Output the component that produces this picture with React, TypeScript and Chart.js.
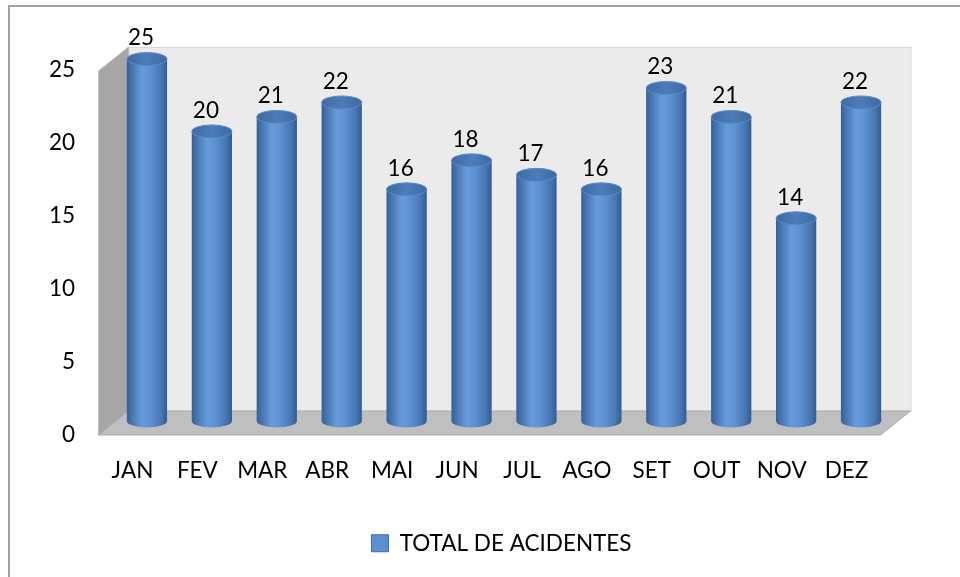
import React, { useEffect, useRef } from "react";
import { Chart, registerables } from "chart.js";

Chart.register(...registerables);

const categories = ["JAN", "FEV", "MAR", "ABR", "MAI", "JUN", "JUL", "AGO", "SET", "OUT", "NOV", "DEZ"];
const totalAcidentes = [25, 20, 21, 22, 16, 18, 17, 16, 23, 21, 14, 22];
const seriesName = "TOTAL DE ACIDENTES";
const yTicks = [0, 5, 10, 15, 20, 25];

const FONT = "Lato, 'Open Sans', sans-serif";
const FONT_SIZE = 22.5;
const DEPTH_X = 30;
const DEPTH_Y = 24;
const BAR_PCT = 0.62;

function barGeom(chart: any, i: number) {
  const x = chart.scales.x;
  const step = x.width / categories.length;
  return { cx: x.getPixelForValue(i), w: step * BAR_PCT };
}

function sideGradient(ctx: CanvasRenderingContext2D, cx: number, w: number) {
  const g = ctx.createLinearGradient(cx - w / 2, 0, cx + w / 2, 0);
  g.addColorStop(0, "#355f98");
  g.addColorStop(0.12, "#4674b0");
  g.addColorStop(0.38, "#679cdb");
  g.addColorStop(0.6, "#5d90d0");
  g.addColorStop(0.86, "#4675b2");
  g.addColorStop(1, "#325b92");
  return g;
}

export default function App() {
  const ref = useRef<HTMLCanvasElement>(null);

  useEffect(() => {
    document.body.style.margin = "0";
    document.body.style.overflow = "hidden";
    const canvas = ref.current!;

    const scene = {
      id: "scene3d",
      beforeDraw(chart: any) {
        const { ctx, chartArea: a, scales } = chart;
        const y0 = scales.y.getPixelForValue(0);
        const fl = a.left - 16;
        const br = a.right + 17;
        const bl = fl + DEPTH_X;
        const fr = br - DEPTH_X;
        const top = a.top;
        const backBottom = y0 - DEPTH_Y;
        ctx.save();
        ctx.fillStyle = "#ffffff";
        ctx.fillRect(0, 0, chart.width, chart.height);
        ctx.strokeStyle = "#a3a3a3";
        ctx.lineWidth = 2;
        ctx.strokeRect(9, 6, chart.width + 20, chart.height + 20);
        // back wall
        ctx.fillStyle = "#ebebeb";
        ctx.fillRect(bl, top, br - bl, backBottom - top);
        ctx.strokeStyle = "#d6d6d6";
        ctx.lineWidth = 1;
        ctx.strokeRect(bl + 0.5, top + 0.5, br - bl, backBottom - top);
        // side wall
        ctx.beginPath();
        ctx.moveTo(fl, top + DEPTH_Y);
        ctx.lineTo(bl, top);
        ctx.lineTo(bl, backBottom);
        ctx.lineTo(fl, y0);
        ctx.closePath();
        ctx.fillStyle = "#a6a6a6";
        ctx.fill();
        ctx.strokeStyle = "#bcbcbc";
        ctx.stroke();
        // floor
        ctx.beginPath();
        ctx.moveTo(fl, y0);
        ctx.lineTo(bl, backBottom);
        ctx.lineTo(br, backBottom);
        ctx.lineTo(fr, y0);
        ctx.closePath();
        ctx.fillStyle = "#bfbfbf";
        ctx.fill();
        ctx.strokeStyle = "#a9a9a9";
        ctx.stroke();
        ctx.restore();
      },
      afterDatasetsDraw(chart: any) {
        const { ctx } = chart;
        const meta = chart.getDatasetMeta(0);
        ctx.save();
        meta.data.forEach((el: any, i: number) => {
          const rx = el.width / 2;
          const ry = 6.5;
          ctx.beginPath();
          ctx.ellipse(el.x, el.base, rx, ry, 0, 0, Math.PI);
          ctx.closePath();
          ctx.fillStyle = sideGradient(ctx, el.x, el.width);
          ctx.fill();
          ctx.beginPath();
          ctx.ellipse(el.x, el.y, rx, ry, 0, 0, Math.PI * 2);
          const g = ctx.createLinearGradient(el.x - rx, 0, el.x + rx, 0);
          g.addColorStop(0, "#3f6aa3");
          g.addColorStop(0.5, "#4d7db9");
          g.addColorStop(1, "#3e69a2");
          ctx.fillStyle = g;
          ctx.fill();
          ctx.strokeStyle = "#5a8cca";
          ctx.lineWidth = 1;
          ctx.stroke();
          ctx.fillStyle = "#000000";
          ctx.font = `${FONT_SIZE}px ${FONT}`;
          ctx.textAlign = "center";
          ctx.textBaseline = "middle";
          ctx.fillText(String(totalAcidentes[i]), el.x - 6, el.y - 21);
        });
        ctx.restore();
      },
    };

    const chart = new Chart(canvas, {
      type: "bar",
      data: {
        labels: categories,
        datasets: [
          {
            label: seriesName,
            data: totalAcidentes,
            yAxisID: "yb",
            borderWidth: 0,
            barPercentage: BAR_PCT,
            categoryPercentage: 1,
            backgroundColor: (c: any) => {
              const ch = c.chart;
              if (!ch.chartArea || c.dataIndex === undefined) return "#4f81bd";
              const { cx, w } = barGeom(ch, c.dataIndex);
              return sideGradient(ch.ctx, cx, w);
            },
          },
        ],
      },
      options: {
        responsive: false,
        maintainAspectRatio: false,
        animation: false,
        devicePixelRatio: 1,
        layout: { padding: { left: 44.5, right: 1.5, top: 47, bottom: 12.5 } },
        plugins: {
          tooltip: { enabled: false },
          legend: {
            display: true,
            position: "bottom",
            labels: {
              boxWidth: 17,
              boxHeight: 17,
              padding: 25,
              color: "#000000",
              font: { family: FONT, size: FONT_SIZE },
              generateLabels: () => [
                {
                  text: seriesName,
                  fillStyle: "#5b8fd0",
                  strokeStyle: "#3d6ea8",
                  lineWidth: 1,
                  hidden: false,
                  datasetIndex: 0,
                },
              ],
            },
          },
        },
        scales: {
          x: {
            type: "category",
            grid: { display: false, drawTicks: false },
            border: { display: false },
            ticks: {
              color: "#000000",
              font: { family: FONT, size: FONT_SIZE },
              padding: 22,
              labelOffset: -14.5,
              maxRotation: 0,
              autoSkip: false,
            },
            afterFit: (s: any) => {
              s.height = 72;
            },
          },
          y: {
            type: "linear",
            position: "left",
            min: 0,
            max: 26.575,
            grid: {
              display: true,
              drawOnChartArea: false,
              drawTicks: true,
              tickLength: 39.5,
              color: "rgba(0,0,0,0)",
            },
            border: { display: false },
            ticks: {
              color: "#000000",
              font: { family: FONT, size: FONT_SIZE },
              padding: 0,
            },
            afterBuildTicks: (s: any) => {
              s.ticks = yTicks.map((v) => ({ value: v }));
            },
            afterFit: (s: any) => {
              s.width = 70;
            },
          },
          yr: {
            type: "linear",
            position: "right",
            grid: { display: false, drawTicks: false },
            border: { display: false },
            ticks: { display: false, padding: 0 },
            afterFit: (s: any) => {
              s.width = 65;
            },
          },
          yb: {
            type: "linear",
            display: false,
            min: -0.967,
            max: 25.83,
          },
        },
      },
      plugins: [scene],
    } as any);

    return () => chart.destroy();
  }, []);

  return (
    <div style={{ width: 960, height: 577 }}>
      <canvas ref={ref} width={960} height={577} style={{ display: "block" }} />
    </div>
  );
}
